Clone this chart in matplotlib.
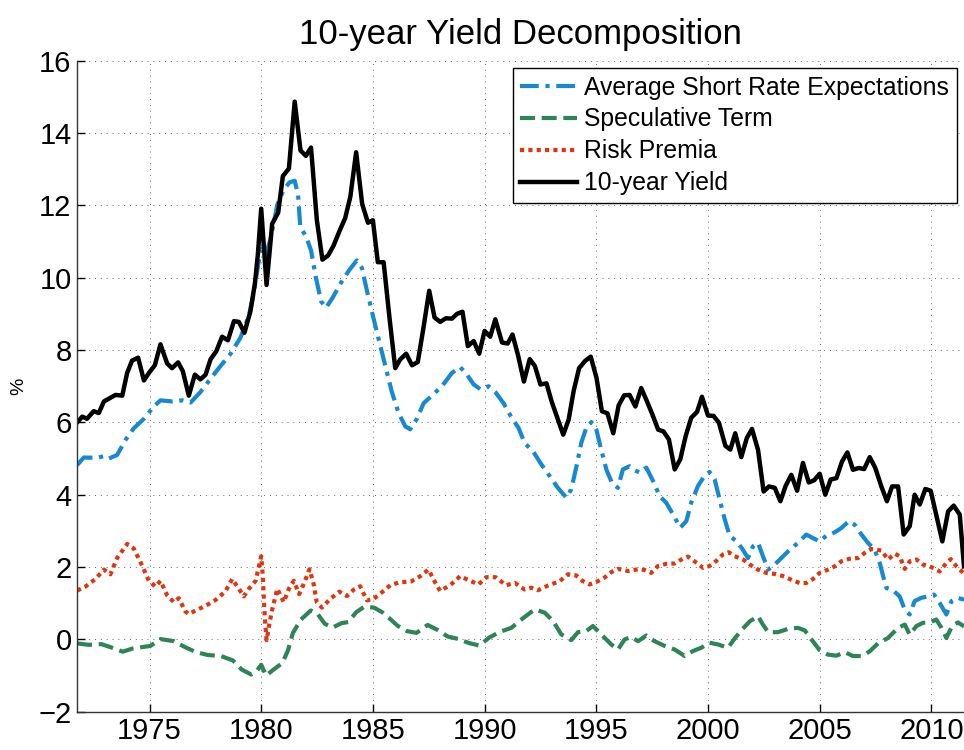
import numpy as np
import matplotlib
matplotlib.use("Agg")
from matplotlib import pyplot as plt

plt.rcParams['font.family'] = ['Liberation Sans', 'DejaVu Sans']

# 10-year yield (~quarterly)
yield_t = [1971.76, 1971.99, 1972.2, 1972.5, 1972.73, 1972.96, 1973.25, 1973.48, 1973.78, 1974.0,
           1974.22, 1974.49, 1974.75, 1975.0, 1975.24, 1975.49, 1975.79, 1976.01, 1976.28, 1976.49,
           1976.76, 1977.03, 1977.28, 1977.51, 1977.73, 1977.99, 1978.25, 1978.51, 1978.78, 1979.0,
           1979.25, 1979.52, 1979.72, 1979.85, 1980.0, 1980.24, 1980.49, 1980.76, 1980.97, 1981.24,
           1981.5, 1981.76, 1982.0, 1982.23, 1982.49, 1982.74, 1983.0, 1983.24, 1983.51, 1983.76,
           1983.99, 1984.25, 1984.52, 1984.78, 1985.0, 1985.22, 1985.48, 1985.75, 1986.0, 1986.22,
           1986.49, 1986.75, 1987.01, 1987.27, 1987.52, 1987.76, 1988.01, 1988.27, 1988.54, 1988.76,
           1989.01, 1989.25, 1989.51, 1989.76, 1990.0, 1990.25, 1990.48, 1990.78, 1991.03, 1991.25,
           1991.5, 1991.76, 1992.02, 1992.25, 1992.5, 1992.77, 1993.0, 1993.26, 1993.52, 1993.76,
           1993.99, 1994.23, 1994.5, 1994.75, 1995.01, 1995.25, 1995.5, 1995.76, 1996.0, 1996.25,
           1996.49, 1996.75, 1997.01, 1997.25, 1997.51, 1997.77, 1998.01, 1998.25, 1998.51, 1998.76,
           1999.0, 1999.25, 1999.51, 1999.73, 2000.0, 2000.25, 2000.49, 2000.78, 2001.0, 2001.22,
           2001.49, 2001.74, 2001.97, 2002.24, 2002.49, 2002.73, 2002.99, 2003.24, 2003.48, 2003.73,
           2003.99, 2004.25, 2004.51, 2004.75, 2005.0, 2005.25, 2005.49, 2005.75, 2006.0, 2006.24,
           2006.49, 2006.75, 2006.99, 2007.24, 2007.49, 2007.76, 2008.01, 2008.24, 2008.51, 2008.76,
           2009.03, 2009.25, 2009.48, 2009.73, 2009.97, 2010.25, 2010.49, 2010.75, 2011.0, 2011.27,
           2011.46]
yield_v = [6.0, 6.16, 6.1, 6.31, 6.26, 6.58, 6.68, 6.76, 6.74, 7.37,
           7.71, 7.79, 7.16, 7.39, 7.58, 8.16, 7.63, 7.5, 7.66, 7.42,
           6.74, 7.32, 7.19, 7.32, 7.74, 7.97, 8.37, 8.27, 8.8, 8.78,
           8.48, 9.08, 9.85, 10.64, 11.91, 9.8, 11.49, 11.8, 12.81, 13.02,
           14.87, 13.52, 13.37, 13.6, 11.6, 10.5, 10.62, 10.89, 11.3, 11.65,
           12.24, 13.47, 12.04, 11.52, 11.59, 10.43, 10.43, 8.85, 7.5, 7.74,
           7.9, 7.58, 7.67, 8.64, 9.64, 8.9, 8.78, 8.88, 8.87, 9.0,
           9.06, 8.11, 8.25, 7.9, 8.53, 8.37, 8.85, 8.21, 8.18, 8.43,
           7.85, 7.13, 7.75, 7.56, 7.05, 7.08, 6.58, 6.12, 5.66, 6.07,
           6.88, 7.5, 7.7, 7.82, 7.23, 6.31, 6.25, 5.7, 6.47, 6.75,
           6.76, 6.44, 6.95, 6.61, 6.22, 5.8, 5.75, 5.53, 4.7, 4.98,
           5.62, 6.13, 6.29, 6.71, 6.19, 6.18, 5.99, 5.35, 5.25, 5.7,
           5.04, 5.57, 5.82, 5.24, 4.09, 4.23, 4.19, 3.82, 4.25, 4.55,
           4.11, 4.88, 4.34, 4.4, 4.58, 4.0, 4.42, 4.46, 4.92, 5.17,
           4.69, 4.74, 4.71, 5.04, 4.74, 4.23, 3.82, 4.23, 4.23, 2.9,
           3.13, 4.0, 3.73, 4.16, 4.11, 3.36, 2.71, 3.54, 3.7, 3.45,
           2.02]

# average short rate expectations
exp_t = [1971.76, 1972.06, 1972.66, 1972.96, 1973.18, 1973.55, 1973.93, 1974.3, 1974.75, 1975.19,
         1975.49, 1976.01, 1976.46, 1976.84, 1977.28, 1977.73, 1978.18, 1978.63, 1979.07, 1979.45,
         1979.67, 1979.87, 1980.0, 1980.19, 1980.42, 1980.72, 1981.01, 1981.27, 1981.5, 1981.65,
         1981.75, 1982.0, 1982.23, 1982.45, 1982.68, 1982.9, 1983.2, 1983.58, 1983.95, 1984.28,
         1984.51, 1984.73, 1985.0, 1985.25, 1985.55, 1985.85, 1986.15, 1986.45, 1986.67, 1986.97,
         1987.27, 1987.64, 1988.09, 1988.54, 1988.91, 1989.21, 1989.51, 1989.81, 1990.18, 1990.48,
         1990.85, 1991.22, 1991.52, 1991.79, 1992.16, 1992.54, 1992.91, 1993.28, 1993.66, 1993.88,
         1994.1, 1994.33, 1994.55, 1994.78, 1995.0, 1995.22, 1995.45, 1995.7, 1995.97, 1996.19,
         1996.49, 1996.72, 1996.94, 1997.24, 1997.54, 1997.84, 1998.13, 1998.43, 1998.76, 1999.03,
         1999.25, 1999.55, 1999.85, 2000.07, 2000.3, 2000.52, 2000.75, 2000.97, 2001.27, 2001.52,
         2001.79, 2002.01, 2002.24, 2002.46, 2002.69, 2002.99, 2003.28, 2003.66, 2004.03, 2004.4,
         2004.7, 2005.0, 2005.3, 2005.67, 2005.97, 2006.31, 2006.57, 2006.87, 2007.16, 2007.46,
         2007.69, 2007.84, 2007.99, 2008.28, 2008.58, 2008.81, 2009.03, 2009.25, 2009.55, 2009.85,
         2010.12, 2010.37, 2010.67, 2010.9, 2011.16, 2011.46]
exp_v = [4.82, 5.03, 5.02, 5.07, 5.0, 5.1, 5.52, 5.84, 6.1, 6.44,
         6.61, 6.58, 6.61, 6.55, 6.84, 7.21, 7.56, 7.9, 8.34, 8.95,
         9.59, 10.38, 10.8, 10.64, 11.07, 12.02, 12.44, 12.64, 12.68, 12.3,
         11.4, 11.15, 10.76, 10.0, 9.35, 9.17, 9.45, 9.87, 10.22, 10.48,
         10.27, 9.65, 8.95, 8.32, 7.58, 6.84, 6.26, 5.89, 5.81, 6.1,
         6.53, 6.74, 7.0, 7.37, 7.53, 7.32, 7.05, 6.92, 7.0, 6.84,
         6.53, 6.12, 5.85, 5.43, 5.21, 4.84, 4.52, 4.19, 3.92, 4.15,
         4.75, 5.44, 5.85, 6.01, 5.81, 5.25, 4.7, 4.33, 4.19, 4.7,
         4.79, 4.68, 4.61, 4.75, 4.38, 3.96, 3.78, 3.46, 3.09, 3.27,
         3.78, 4.24, 4.53, 4.63, 4.42, 3.87, 3.32, 2.86, 2.72, 2.52,
         2.25, 2.57, 2.67, 2.3, 1.93, 2.07, 2.25, 2.48, 2.67, 2.9,
         2.8, 2.71, 2.87, 2.96, 3.08, 3.27, 3.17, 2.9, 2.67, 2.48,
         2.11, 1.75, 1.42, 1.36, 1.19, 0.82, 0.69, 1.06, 1.15, 1.19,
         1.24, 1.01, 0.69, 1.06, 1.15, 1.1]

# speculative term
spec_t = [1971.76, 1972.28, 1972.85, 1973.33, 1973.8, 1974.25, 1974.7, 1975.04, 1975.49, 1976.1,
          1976.61, 1977.08, 1977.6, 1978.2, 1978.73, 1979.12, 1979.55, 1979.82, 1980.0, 1980.22,
          1980.52, 1980.95, 1981.2, 1981.42, 1981.78, 1982.22, 1982.53, 1982.85, 1983.2, 1983.6,
          1983.9, 1984.25, 1984.6, 1985.05, 1985.42, 1985.8, 1986.1, 1986.52, 1986.95, 1987.45,
          1987.9, 1988.35, 1988.84, 1989.3, 1989.77, 1990.2, 1990.73, 1991.2, 1991.6, 1992.24,
          1992.69, 1993.06, 1993.43, 1993.88, 1994.18, 1994.55, 1994.85, 1995.3, 1995.67, 1995.97,
          1996.27, 1996.57, 1996.87, 1997.24, 1997.61, 1998.06, 1998.51, 1998.96, 1999.33, 1999.7,
          2000.07, 2000.45, 2000.9, 2001.19, 2001.49, 2001.87, 2002.24, 2002.46, 2002.69, 2003.13,
          2003.58, 2004.03, 2004.33, 2004.63, 2005.0, 2005.37, 2005.75, 2006.12, 2006.49, 2006.87,
          2007.24, 2007.61, 2008.06, 2008.51, 2008.81, 2009.03, 2009.33, 2009.63, 2009.93, 2010.22,
          2010.45, 2010.67, 2010.93, 2011.19, 2011.46]
spec_v = [-0.11, -0.15, -0.13, -0.23, -0.34, -0.25, -0.21, -0.18, 0.01, -0.05,
          -0.22, -0.35, -0.43, -0.46, -0.58, -0.83, -0.97, -0.86, -0.7, -1.0,
          -0.85, -0.65, -0.3, 0.18, 0.55, 0.8, 0.7, 0.43, 0.33, 0.45,
          0.48, 0.75, 0.9, 0.88, 0.75, 0.55, 0.38, 0.23, 0.18, 0.4,
          0.26, 0.08, 0.01, -0.1, -0.17, 0.05, 0.22, 0.32, 0.53, 0.83,
          0.74, 0.51, 0.14, -0.02, 0.2, 0.23, 0.37, 0.09, -0.14, -0.28,
          0.0, 0.07, -0.05, 0.11, -0.05, -0.18, -0.28, -0.46, -0.32, -0.23,
          -0.09, -0.14, -0.23, 0.02, 0.25, 0.5, 0.64, 0.41, 0.2, 0.2,
          0.29, 0.32, 0.25, 0.0, -0.3, -0.42, -0.45, -0.35, -0.46, -0.46,
          -0.33, -0.11, 0.04, 0.32, 0.41, 0.13, 0.37, 0.46, 0.47, 0.55,
          0.32, 0.04, 0.37, 0.47, 0.36]

# risk premia
risk_t = [1971.76, 1972.13, 1972.58, 1972.96, 1973.25, 1973.55, 1974.0, 1974.3, 1974.67, 1974.97,
          1975.27, 1975.49, 1975.79, 1976.09, 1976.31, 1976.61, 1976.76, 1977.13, 1977.51, 1977.96,
          1978.4, 1978.7, 1979.0, 1979.22, 1979.45, 1979.75, 1980.0, 1980.07, 1980.16, 1980.24,
          1980.39, 1980.49, 1980.72, 1981.01, 1981.24, 1981.46, 1981.7, 1981.95, 1982.16, 1982.34,
          1982.49, 1982.72, 1983.09, 1983.5, 1983.84, 1984.13, 1984.43, 1984.73, 1985.03, 1985.4,
          1985.78, 1986.2, 1986.7, 1987.1, 1987.49, 1987.79, 1988.01, 1988.46, 1988.91, 1989.28,
          1989.73, 1990.07, 1990.5, 1990.95, 1991.37, 1991.6, 1991.8, 1992.09, 1992.39, 1992.84,
          1993.36, 1993.73, 1994.1, 1994.4, 1994.7, 1995.07, 1995.37, 1995.67, 1995.97, 1996.42,
          1996.87, 1997.16, 1997.46, 1997.76, 1998.13, 1998.51, 1998.81, 1999.1, 1999.48, 1999.78,
          2000.07, 2000.37, 2000.67, 2000.93, 2001.19, 2001.57, 2001.87, 2002.24, 2002.61, 2002.99,
          2003.36, 2003.73, 2004.1, 2004.4, 2004.7, 2005.0, 2005.37, 2005.67, 2005.97, 2006.34,
          2006.72, 2007.01, 2007.31, 2007.76, 2008.06, 2008.36, 2008.58, 2008.81, 2009.03, 2009.33,
          2009.63, 2010.0, 2010.37, 2010.67, 2010.87, 2011.12, 2011.43]
risk_v = [1.35, 1.46, 1.67, 1.93, 1.8, 2.25, 2.64, 2.51, 2.04, 1.62,
          1.46, 1.62, 1.22, 1.03, 1.14, 0.77, 0.7, 0.82, 0.93, 1.09,
          1.33, 1.67, 1.4, 1.19, 1.4, 1.62, 2.3, 1.77, 0.61, -0.02,
          0.51, 0.82, 1.4, 1.03, 1.4, 1.62, 1.25, 1.6, 1.94, 1.55,
          1.02, 0.88, 1.12, 1.32, 1.2, 1.37, 1.47, 1.08, 1.12, 1.3,
          1.5, 1.58, 1.6, 1.74, 1.93, 1.57, 1.34, 1.5, 1.75, 1.64,
          1.52, 1.72, 1.72, 1.5, 1.56, 1.45, 1.38, 1.43, 1.36, 1.49,
          1.61, 1.8, 1.77, 1.61, 1.52, 1.61, 1.71, 1.86, 1.95, 1.89,
          1.94, 1.92, 1.84, 2.03, 2.09, 2.1, 2.21, 2.29, 2.12, 1.98,
          2.03, 2.17, 2.35, 2.41, 2.3, 2.21, 2.07, 1.93, 1.84, 1.81,
          1.75, 1.65, 1.56, 1.56, 1.67, 1.84, 1.93, 2.02, 2.16, 2.23,
          2.25, 2.39, 2.5, 2.46, 2.21, 2.37, 2.3, 1.95, 2.16, 2.21,
          2.07, 2.0, 1.88, 2.11, 2.22, 2.02, 1.84]

xticks = [1975, 1980, 1985, 1990, 1995, 2000, 2005, 2010]
yticks = [-2, 0, 2, 4, 6, 8, 10, 12, 14, 16]

fig = plt.figure(figsize=(9.64, 7.5), dpi=100)
ax = fig.add_axes([0.08, 0.051, 0.92, 0.868])

ax.plot(exp_t, exp_v, color='#1689D0', lw=3.0, linestyle=(0, (4.5, 1.6, 1.0, 1.6)),
        label='Average Short Rate Expectations')
ax.plot(spec_t, spec_v, color='#2E8457', lw=3.0, linestyle=(0, (3.6, 1.6)),
        label='Speculative Term')
ax.plot(risk_t, risk_v, color='#E0350E', lw=3.0, linestyle=(0, (1.0, 1.0)),
        dash_capstyle='butt', label='Risk Premia')
ax.plot(yield_t, yield_v, color='black', lw=3.2, label='10-year Yield')

ax.set_xlim(min(yield_t), max(yield_t))
ax.set_ylim(-2, 16)
ax.set_xticks(xticks)
ax.set_yticks(yticks)
ax.tick_params(direction='in', length=6, width=1, labelsize=21, pad=4)
ax.grid(True, linestyle=(0, (1, 5)), color='#666666', lw=0.7)
for s in ['top', 'right']:
    ax.spines[s].set_visible(False)
for s in ['left', 'bottom']:
    ax.spines[s].set_color('#333333')
    ax.spines[s].set_linewidth(1.0)

ax.set_title('10-year Yield Decomposition', fontsize=25, pad=12)
ax.set_ylabel('%', fontsize=14, labelpad=8)

leg = ax.legend(loc='upper right', fontsize=17.8, frameon=True, fancybox=False,
                framealpha=1, edgecolor='black', handlelength=2.3, handletextpad=0.3,
                labelspacing=0.32, borderpad=0.3, borderaxespad=0.3)
leg.get_frame().set_linewidth(1.0)

plt.savefig('out.png', dpi=100)
